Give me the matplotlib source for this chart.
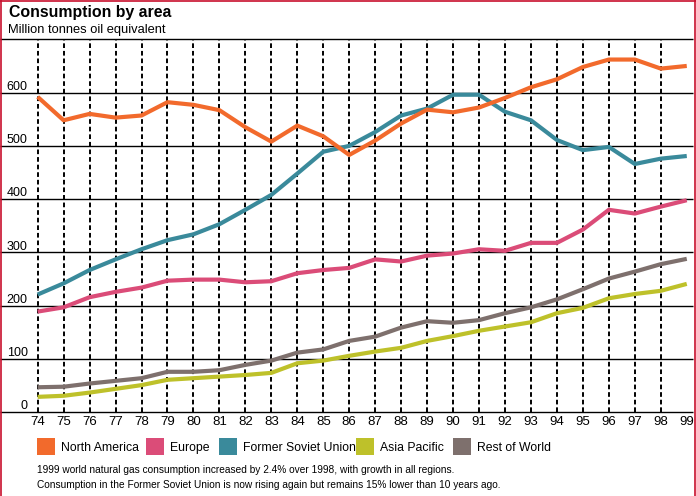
import matplotlib.pyplot as plt
from matplotlib.patches import Rectangle
from matplotlib.lines import Line2D

plt.rcParams['font.family'] = ['Liberation Sans', 'DejaVu Sans']

# Data (Million tonnes oil equivalent)
years = list(range(74, 100))
year_labels = [str(y) for y in years]
north_america = [592, 548, 560, 553, 557, 582, 577, 567, 535, 508, 538, 518,
                 483, 510, 542, 568, 563, 572, 590, 610, 625, 648, 662, 662, 645, 650]
europe = [189, 197, 216, 226, 234, 247, 249, 249, 244, 246, 261, 267,
          271, 287, 283, 294, 298, 306, 303, 318, 318, 343, 380, 373, 386, 398]
former_soviet = [221, 242, 267, 287, 306, 323, 334, 353, 380, 408, 448, 489,
                 500, 526, 557, 570, 596, 596, 564, 548, 511, 492, 498, 466, 476, 481]
asia_pacific = [29, 31, 37, 44, 51, 61, 64, 67, 70, 74, 92, 97,
                106, 114, 121, 134, 143, 153, 161, 169, 186, 196, 214, 222, 228, 241]
rest_of_world = [47, 48, 54, 59, 64, 76, 76, 79, 89, 97, 112, 118,
                 134, 142, 159, 171, 168, 173, 186, 197, 212, 231, 251, 264, 278, 288]
y_ticks = [0, 100, 200, 300, 400, 500, 600]

names = ['North America', 'Europe', 'Former Soviet Union', 'Asia Pacific', 'Rest of World']
colors = ['#F26A2C', '#DB4C78', '#3A8A9B', '#BEC12A', '#7E706D']

W, H = 696, 496
fig = plt.figure(figsize=(W / 100, H / 100), dpi=100)
ax = fig.add_axes([0, 1 - 412.3 / H, 693 / W, (412.3 - 39.3) / H])
ax.set_xlim(72.55, 99.24)
ax.set_ylim(0, 700)
for s in ax.spines.values():
    s.set_visible(False)

# grid: solid horizontals, dashed verticals
ax.hlines(range(0, 800, 100), 72.55, 99.24, color='black', lw=1.0, zorder=1, clip_on=False)
ax.vlines(years[:-1], 0, 700, color='black', lw=1.4, linestyles=(0, (2.4, 1.5)), zorder=1)

series = [rest_of_world, asia_pacific, europe, former_soviet, north_america]
order = [4, 3, 1, 2, 0]
for vals, i in zip(series, order):
    ax.plot(years, vals, color=colors[i], lw=3, solid_joinstyle='round',
            solid_capstyle='butt', zorder=3)

ax.set_xticks(years)
ax.set_xticklabels(year_labels)
ax.tick_params(axis='x', length=0, pad=2.5, labelsize=9.5)
ax.set_yticks([])
for v in y_ticks:
    ax.text(73.62, v + 5.5, str(v), ha='right', va='baseline', fontsize=9)

# titles
fig.text(9 / W, 1 - 17 / H, 'Consumption by area', fontsize=11.4, fontweight='bold',
         ha='left', va='baseline')
fig.text(8 / W, 1 - 33 / H, 'Million tonnes oil equivalent', fontsize=9.3,
         ha='left', va='baseline')

# legend
sq_x = [37, 146, 219, 356, 453]
for x0, name, c in zip(sq_x, names, colors):
    fig.add_artist(Rectangle((x0 / W, 1 - 455 / H), 18 / W, 17 / H,
                             transform=fig.transFigure, color=c, lw=0))
    fig.text((x0 + 24) / W, 1 - 451 / H, name, fontsize=8.8, ha='left', va='baseline')

fig.text(37 / W, 1 - 473 / H,
         '1999 world natural gas consumption increased by 2.4% over 1998, with growth in all regions.',
         fontsize=7.3, ha='left', va='baseline')
fig.text(37 / W, 1 - 488 / H,
         'Consumption in the Former Soviet Union is now rising again but remains 15% lower than 10 years ago.',
         fontsize=7.3, ha='left', va='baseline')

# red frame (left, top, right)
red = '#C8102E'
fig.add_artist(Line2D([0.5 / W, 0.5 / W], [0, 1], transform=fig.transFigure, color=red, lw=1.2))
fig.add_artist(Line2D([0, 1], [1 - 0.5 / H, 1 - 0.5 / H], transform=fig.transFigure, color=red, lw=1.2))
fig.add_artist(Line2D([694.5 / W, 694.5 / W], [0, 1], transform=fig.transFigure, color=red, lw=1.2))

fig.savefig('out.png', dpi=100)
